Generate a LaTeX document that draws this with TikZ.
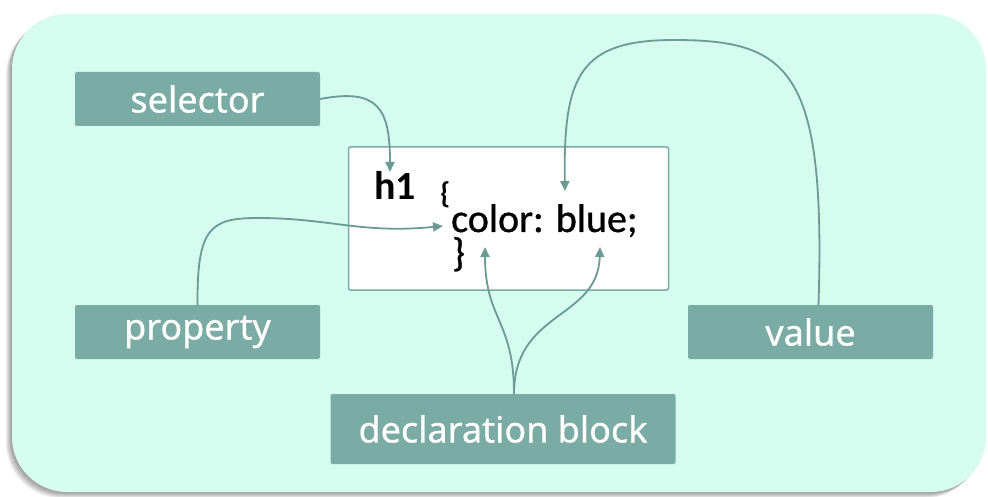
\documentclass[tikz,border=0pt]{standalone}
\usepackage{fontspec}
\setmainfont{Noto Sans}
\newfontfamily\labelfont[FakeBold=0.6]{Noto Sans}
\newfontfamily\codefont{Carlito}
\newfontfamily\codefontb[FakeBold=0.8]{Carlito}
\usetikzlibrary{arrows.meta}
\definecolor{mint}{HTML}{D6FCF0}
\definecolor{teal1}{HTML}{7AABA5}
\definecolor{arr}{HTML}{6A9B95}
\tikzset{
  label/.style={fill=teal1, text=white, rounded corners=2pt, inner sep=0pt,
    font=\labelfont\fontsize{36}{40}\selectfont},
  conn/.style={draw=arr, line width=1.8pt, -{Triangle[length=10pt,width=9pt]}},
  code/.style={anchor=base west, inner sep=0pt, text=black}
}
\begin{document}
\begin{tikzpicture}[x=1pt,y=-1pt]
\useasboundingbox (0,0) rectangle (988,497);
\fill[white] (0,0) rectangle (988,497);
% shadow
\foreach \i in {1,...,6}{
  \fill[black, opacity=0.07, rounded corners=55pt] (12-\i,14+\i) rectangle (986-\i,492+\i);
}
\fill[mint, rounded corners=55pt] (12,14) rectangle (986,492);
% code box
\node[draw=teal1, line width=1.5pt, fill=white, rounded corners=2pt, minimum width=320pt, minimum height=143pt, inner sep=0pt] (codebox) at (508.5,218.5) {};
\node[code, font=\codefont\bfseries\fontsize{40}{44}\selectfont] (h1) at (374,200) {h1};
\node[code, font=\codefont\bfseries\fontsize{30}{32}\selectfont] (ob) at (440,204) {\{};
\node[code, font=\codefontb\fontsize{40}{44}\selectfont] (decl) at (451,232) {color: blue;};
\node[code, font=\codefontb\fontsize{40}{44}\selectfont] (cb) at (452,266) {\}};
% labels
\node[label, minimum width=245pt, minimum height=54pt] (selector) at (197.5,99) {selector};
\node[label, minimum width=245pt, minimum height=54pt] (property) at (197.5,332) {property};
\node[label, minimum width=245pt, minimum height=54pt] (value) at (810.5,332) {value};
\node[label, minimum width=345pt, minimum height=70pt] (block) at (503,429) {declaration block};
% target points
\coordinate (tH) at (390,172);
\coordinate (tV) at (565,191);
\coordinate (tP) at (443,226);
\coordinate (tB1) at (485,247);
\coordinate (tB2) at (600,247);
\coordinate (vS) at ([xshift=8pt]value.north);
\coordinate (bS) at ([xshift=11pt]block.north);
% connectors
\draw[conn] (selector.east) .. controls (378,88) and (390,108) .. (tH);
\draw[conn] (vS) .. controls (826,70) and (790,40) .. (674,40) .. controls (580,40) and (563,75) .. (tV);
\draw[conn] (property.north) .. controls (197,228) and (210,218) .. (258,218) .. controls (330,218) and (360,234) .. (tP);
\draw[conn] (bS) .. controls (514,320) and (485,320) .. (tB1);
\draw[conn] (bS) .. controls (514,310) and (598,320) .. (tB2);
\end{tikzpicture}
\end{document}
